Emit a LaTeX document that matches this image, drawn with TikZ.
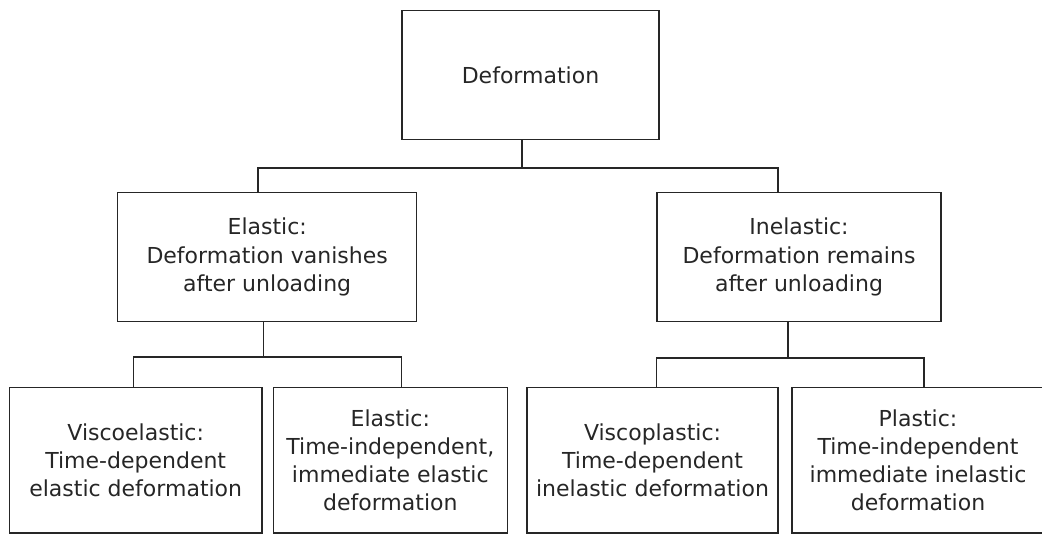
\documentclass[tikz,border=0pt]{standalone}
\usepackage{fontspec}
\setmainfont{DejaVu Sans}
\definecolor{ink}{gray}{0.15}
\tikzset{
  box/.style={draw=ink, line width=1.2pt, align=center, inner sep=0pt, text=ink,
    font=\fontsize{22}{28.3}\selectfont},
  link/.style={draw=ink, line width=1.2pt}
}
\begin{document}
\begin{tikzpicture}[x=1pt,y=1pt]
\useasboundingbox (0,0) rectangle (1042,-534);
% boxes
\node[box, minimum width=257pt, minimum height=128.3pt] (top) at (530.5,-75) {Deformation};
\node[box, minimum width=299pt, minimum height=129pt] (el) at (267.2,-257.2)
  {Elastic:\\Deformation vanishes\\after unloading};
\node[box, minimum width=284pt, minimum height=129pt] (inel) at (799,-257.2)
  {Inelastic:\\Deformation remains\\after unloading};
\node[box, minimum width=252.7pt, minimum height=145.5pt] (visc) at (135.7,-460.3)
  {Viscoelastic:\\Time-dependent\\elastic deformation};
\node[box, minimum width=234pt, minimum height=145.5pt] (elas) at (390.3,-460.3)
  {Elastic:\\Time-independent,\\immediate elastic\\deformation};
\node[box, minimum width=251pt, minimum height=145.5pt] (viscp) at (652.5,-460.3)
  {Viscoplastic:\\Time-dependent\\inelastic deformation};
\node[box, minimum width=252pt, minimum height=145.5pt] (plas) at (918,-460.3)
  {Plastic:\\Time-independent\\immediate inelastic\\deformation};
% junction coordinates
\coordinate (j1) at (522,-168);
\coordinate (a1) at (258,-168);
\coordinate (a2) at (778,-168);
\coordinate (j2) at (263.7,-357);
\coordinate (b1) at (133.5,-357);
\coordinate (b2) at (401.5,-357);
\coordinate (j3) at (788,-358);
\coordinate (c1) at (656.5,-358);
\coordinate (c2) at (924,-358);
% connectors
\draw[link] (top.south -| j1) -- (j1);
\draw[link] (el.north -| a1) -- (a1) -- (a2) -- (inel.north -| a2);
\draw[link] (el.south -| j2) -- (j2);
\draw[link] (visc.north -| b1) -- (b1) -- (b2) -- (elas.north -| b2);
\draw[link] (inel.south -| j3) -- (j3);
\draw[link] (viscp.north -| c1) -- (c1) -- (c2) -- (plas.north -| c2);
\end{tikzpicture}
\end{document}
